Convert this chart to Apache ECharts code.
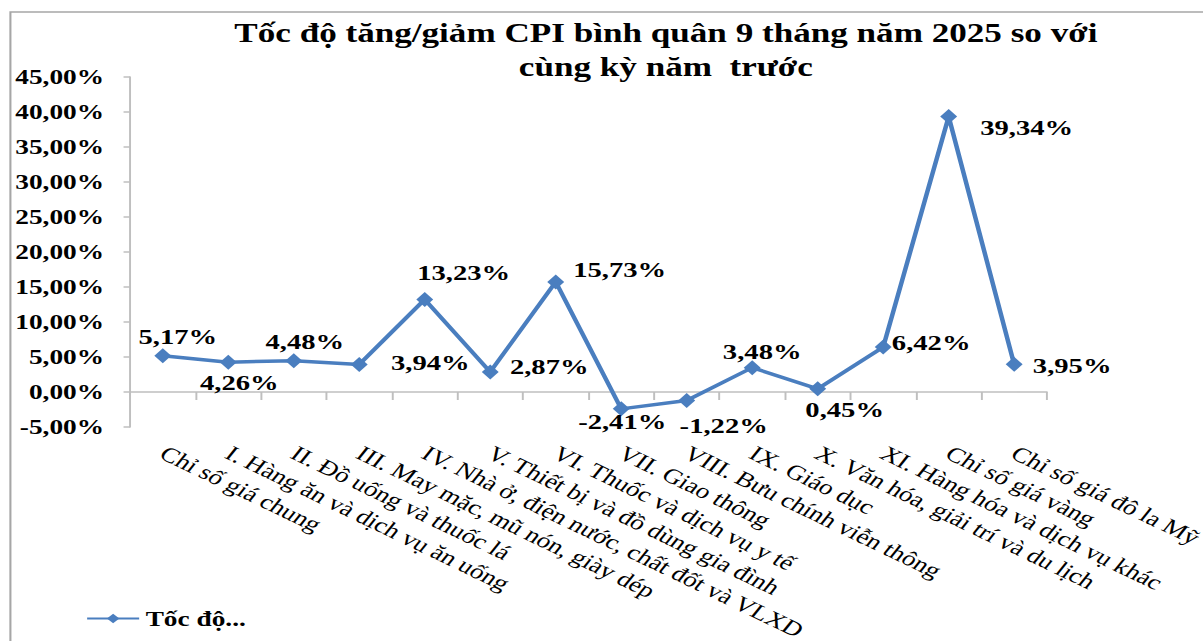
<!DOCTYPE html>
<html>
<head>
<meta charset="utf-8">
<script src="https://cdn.jsdelivr.net/npm/echarts@6/dist/echarts.min.js"></script>
<style>
  html, body { margin: 0; padding: 0; background: #fff; overflow: hidden; }
  /* the source picture is stretched sideways, so draw narrow and widen */
  #chart { width: 925px; height: 641px; transform: scaleX(1.3005); transform-origin: 0 0; }
</style>
</head>
<body>
<div id="chart"></div>
<script>
var categories = [
    'Chỉ số giá chung',
    'I. Hàng ăn và dịch vụ ăn uống',
    'II. Đồ uống và thuốc lá',
    'III. May mặc, mũ nón, giày dép',
    'IV. Nhà ở, điện nước, chất đốt và VLXD',
    'V. Thiết bị và đồ dùng gia đình',
    'VI. Thuốc và dịch vụ y tế',
    'VII. Giao thông',
    'VIII. Bưu chính viễn thông',
    'IX. Giáo dục',
    'X. Văn hóa, giải trí và du lịch',
    'XI. Hàng hóa và dịch vụ khác',
    'Chỉ số giá vàng',
    'Chỉ số giá đô la Mỹ'
];
var speed = [5.17, 4.26, 4.48, 3.94, 13.23, 2.87, 15.73, -2.41, -1.22, 3.48, 0.45, 6.42, 39.34, 3.95];
var seriesName = 'Tốc độ...';

//where each value label sits, measured from its point (px in the picture)
var labelShift = [[15, -19], [11, 20], [11, -19], [71, -2], [39, -27], [59, -5], [64, -12],
                  [1, 13], [37, 25], [10, -16], [27, 21], [48, -4], [78, 11], [58, 1]];

var sx = 1.3005;
var font = 'Liberation Serif';
var blue = '#4a7ebf';

function pct(v) {
    return v.toFixed(2).replace('.', ',') + '%';
}

var chart = echarts.init(document.getElementById('chart'), null, {renderer: 'svg'});

var points = speed.map(function (v, i) {
    return {
        value: v,
        label: {offset: [labelShift[i][0] / sx, labelShift[i][1]]}
    };
});

option = {
    animation: false,
    backgroundColor: '#fff',
    title: {
        text: 'Tốc độ tăng/giảm CPI bình quân 9 tháng năm 2025 so với\ncùng kỳ năm  trước',
        left: 507,
        top: 11,
        textAlign: 'center',
        textStyle: {
            fontFamily: font,
            fontWeight: 'bold',
            fontSize: 27,
            lineHeight: 34,
            color: '#000'
        }
    },
    legend: {
        left: 61,
        top: 603,
        itemWidth: 40,
        itemHeight: 12,
        data: [seriesName],
        textStyle: {fontFamily: font, fontWeight: 'bold', fontSize: 21, color: '#000'}
    },
    graphic: [{
        type: 'rect',
        shape: {x: 8, y: 12, width: 1000, height: 700},
        style: {fill: 'none', stroke: '#a6a6a6', lineWidth: 1.6},
        silent: true
    }],
    grid: {left: 100, right: 120, top: 77, bottom: 214, containLabel: false, outerBoundsMode: 'none'},
    xAxis: {
        type: 'category',
        data: categories,
        boundaryGap: true,
        axisLine: {onZero: true, lineStyle: {color: '#bfbfbf', width: 1.5}},
        axisTick: {show: true, length: 8, lineStyle: {color: '#bfbfbf', width: 1.5}},
        axisLabel: {
            interval: 0,
            rotate: -32,
            margin: 24,
            fontFamily: font,
            fontSize: 21,
            color: '#000'
        },
        splitLine: {show: false}
    },
    yAxis: {
        type: 'value',
        min: -5,
        max: 45,
        interval: 5,
        axisLine: {show: true, lineStyle: {color: '#bfbfbf', width: 1.5}},
        axisTick: {show: true, length: 5, lineStyle: {color: '#bfbfbf', width: 1.5}},
        axisLabel: {
            margin: 20,
            fontFamily: font,
            fontWeight: 'bold',
            fontSize: 21,
            color: '#000',
            formatter: pct
        },
        splitLine: {show: false}
    },
    series: [{
        name: seriesName,
        type: 'line',
        data: points,
        color: blue,
        symbol: 'diamond',
        symbolSize: [13, 15],
        lineStyle: {width: 3.5, color: blue},
        itemStyle: {color: blue},
        label: {
            show: true,
            position: 'inside',
            fontFamily: font,
            fontWeight: 'bold',
            fontSize: 22,
            color: '#000',
            textBorderWidth: 0,
            formatter: function (p) { return pct(p.value); }
        }
    }]
};

chart.setOption(option);
</script>
</body>
</html>
